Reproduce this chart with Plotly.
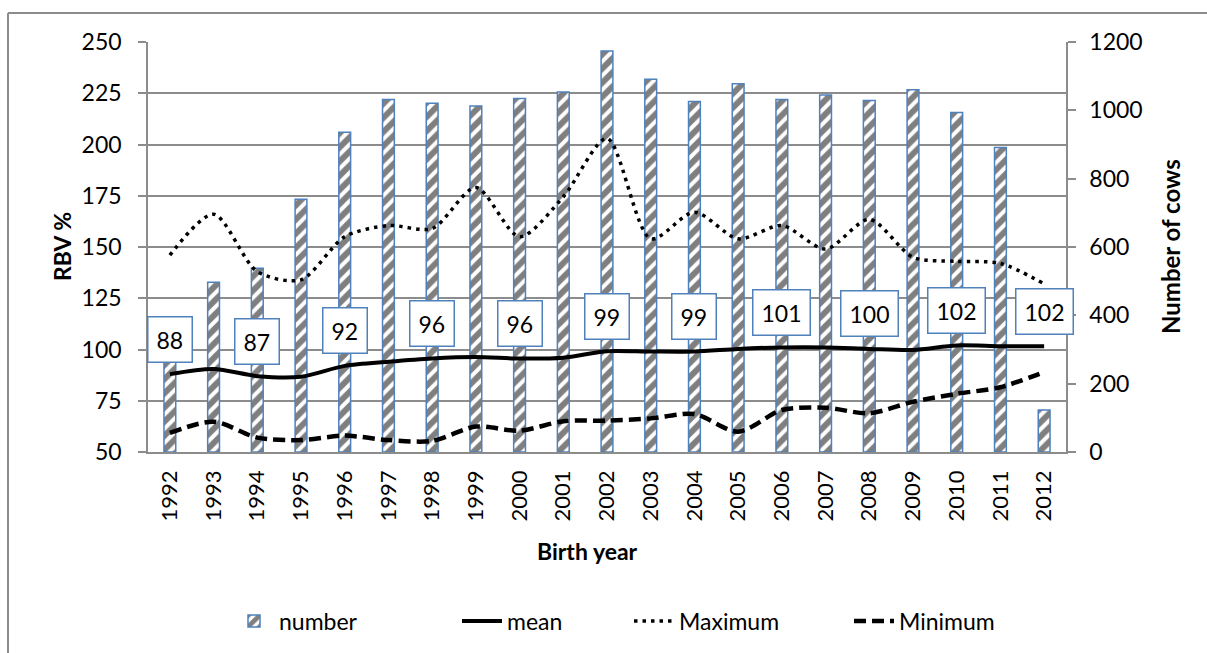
import plotly.graph_objects as go

years = list(range(1992, 2013))
number = [290, 497, 538, 740, 936, 1032, 1021, 1013, 1035, 1054, 1174,
          1091, 1026, 1078, 1032, 1045, 1029, 1060, 994, 891, 123]
mean = [88, 90.5, 87, 86.7, 92, 94, 95.6, 96.3, 95.6, 96, 99.2,
        99, 99, 100.3, 101, 101, 100.3, 99.8, 102, 101.6, 101.6]
maximum = [146, 166, 138, 134, 155, 160.5, 159, 179, 155, 174.5, 203,
           154, 167, 154, 160.5, 149, 163.5, 145, 143, 142, 132]
minimum = [59.3, 64.8, 57, 55.8, 58, 55.8, 55.4, 62.4, 60.4, 65, 65.3,
           66.4, 68.5, 59.9, 70.5, 71.6, 68.9, 74.5, 78.4, 81.6, 89]
left_ticks = [50, 75, 100, 125, 150, 175, 200, 225, 250]
right_ticks = [0, 200, 400, 600, 800, 1000, 1200]

FONT = "Lato, 'Open Sans', sans-serif"
GRAY = "#8C8C8C"
BLUE = "#4F81BD"

# plot area in pixels
L, R, T, B = 148, 1066, 42, 452
W, H = R - L, B - T
def px(x):
    return (x - L) / W
def py(y):
    return (B - y) / H

fig = go.Figure()
fig.add_trace(go.Bar(
    x=years, y=number, name="number", yaxis="y", width=0.27, legend="legend",
    marker=dict(color="white", line=dict(color=BLUE, width=1.5),
                pattern=dict(shape="/", fgcolor="black", bgcolor="white",
                             size=10, solidity=0.6)),
))
fig.add_trace(go.Scatter(
    x=years, y=mean, name="mean", yaxis="y2", mode="lines", legend="legend2",
    line=dict(color="black", width=4, shape="spline", smoothing=0.8),
))
fig.add_trace(go.Scatter(
    x=years, y=maximum, name="Maximum", yaxis="y2", mode="lines", legend="legend3",
    line=dict(color="black", width=3.5, dash="3.5px,5px", shape="spline", smoothing=0.8),
))
fig.add_trace(go.Scatter(
    x=years, y=minimum, name="Minimum", yaxis="y2", mode="lines", legend="legend4",
    line=dict(color="black", width=4.5, dash="12px,6px", shape="spline", smoothing=0.8),
))

annotations = []
for i in range(0, len(years), 2):
    annotations.append(dict(
        x=years[i], y=mean[i], xref="x", yref="y2", yshift=35,
        xanchor="center", yanchor="middle",
        text=f"{mean[i]:.0f}", showarrow=False,
        font=dict(family=FONT, size=23, color="black"),
        bgcolor="white", bordercolor=BLUE, borderwidth=1.5, borderpad=8,
    ))
annotations += [
    dict(x=px(62), y=0.5, xref="paper", yref="paper", text="<b>RBV %</b>",
         xanchor="center", yanchor="middle",
         textangle=-90, showarrow=False, font=dict(family=FONT, size=23, color="black")),
    dict(x=px(1170), y=0.5, xref="paper", yref="paper", text="<b>Number of cows</b>",
         xanchor="center", yanchor="middle",
         textangle=-90, showarrow=False, font=dict(family=FONT, size=24, color="black")),
    dict(x=px(587), y=py(551), xref="paper", yref="paper", text="<b>Birth year</b>",
         xanchor="center", yanchor="middle",
         showarrow=False, font=dict(family=FONT, size=23, color="black")),
]

shapes = [
    dict(type="line", xref="paper", yref="paper", x0=px(8), x1=px(1215),
         y0=py(13), y1=py(13), line=dict(color=GRAY, width=2)),
    dict(type="line", xref="paper", yref="paper", x0=px(8), x1=px(8),
         y0=py(13), y1=py(665), line=dict(color=GRAY, width=2)),
]

def leg(text_start):
    return dict(orientation="h", x=px(text_start - 51), xanchor="left",
                y=py(621), yanchor="middle", bgcolor="rgba(0,0,0,0)",
                font=dict(family=FONT, size=23, color="black"), itemwidth=40)

fig.update_layout(
    width=1207, height=653,
    margin=dict(l=L, r=1207 - R, t=T, b=653 - B, autoexpand=False),
    paper_bgcolor="white", plot_bgcolor="white",
    font=dict(family=FONT, size=23, color="black"),
    showlegend=True,
    legend=leg(280), legend2=leg(508), legend3=leg(680), legend4=leg(900),
    xaxis=dict(range=[1991.5, 2012.5], tickmode="array", tickvals=years,
               ticktext=[str(y) for y in years], tickangle=-90,
               showline=True, linecolor=GRAY, linewidth=1.5,
               ticks="", showgrid=False, zeroline=False, ticklabelstandoff=8,
               tickfont=dict(family=FONT, size=22)),
    yaxis=dict(side="right", range=[0, 1200], tickvals=right_ticks, showgrid=False,
               showline=True, linecolor=GRAY, linewidth=1.5, ticks="outside",
               ticklen=8, tickcolor=GRAY, tickwidth=1.5, ticklabelstandoff=9,
               tickfont=dict(family=FONT, size=23), zeroline=False),
    yaxis2=dict(side="left", overlaying="y", range=[50, 250], tickvals=left_ticks,
                showgrid=True, gridcolor=GRAY, gridwidth=1.5, showline=True,
                linecolor=GRAY, linewidth=1.5, ticks="outside", ticklen=8,
                tickcolor=GRAY, tickwidth=1.5, ticklabelstandoff=12,
                tickfont=dict(family=FONT, size=23), zeroline=False),
    annotations=annotations,
    shapes=shapes,
)

fig.write_html("out.html")
